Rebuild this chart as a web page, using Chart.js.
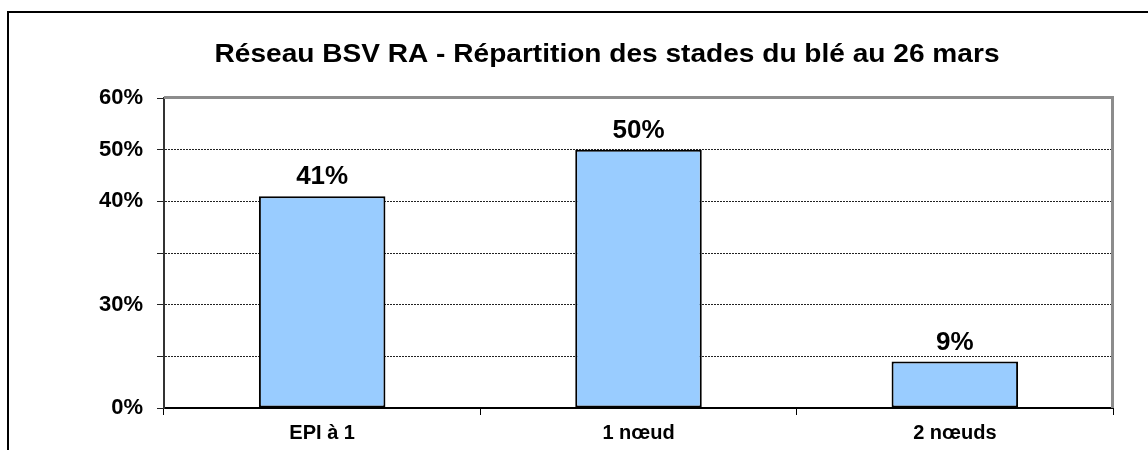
<!DOCTYPE html>
<html>
<head>
<meta charset="utf-8">
<script src="https://cdn.jsdelivr.net/npm/chart.js@4/dist/chart.umd.min.js"></script>
<style>
html,body{margin:0;padding:0;background:#fff;}
#wrap{width:1148px;height:450px;position:relative;}
</style>
</head>
<body>
<div id="wrap"><canvas id="c" width="1148" height="450"></canvas></div>
<script>
const categories = ["EPI à 1", "1 nœud", "2 nœuds"];
const values = [41, 50, 9];
const valueLabels = ["41%", "50%", "9%"];
const yTickValues = [0, 10, 20, 30, 40, 50, 60];
const yTickLabels = ["0%", "", "30%", "", "40%", "50%", "60%"];
const chartTitle = "Réseau BSV RA - Répartition des stades du blé au 26 mars";

const FONT = "'Liberation Sans', Arial, sans-serif";

const decor = {
  id: 'decor',
  beforeDraw(chart) {
    const ctx = chart.ctx;
    ctx.save();
    ctx.fillStyle = '#fff';
    ctx.fillRect(0, 0, chart.width, chart.height);
    ctx.strokeStyle = '#000';
    ctx.lineWidth = 2;
    ctx.beginPath();
    ctx.moveTo(8, 460);
    ctx.lineTo(8, 12);
    ctx.lineTo(1160, 12);
    ctx.stroke();
    ctx.restore();
  },
  afterDatasetsDraw(chart) {
    const ctx = chart.ctx;
    const a = chart.chartArea;
    ctx.save();
    // plot area top/right grey border
    ctx.strokeStyle = '#8c8c8c';
    ctx.lineWidth = 3;
    ctx.beginPath();
    ctx.moveTo(a.left, a.top - 0.5);
    ctx.lineTo(a.right - 0.5, a.top - 0.5);
    ctx.lineTo(a.right - 0.5, a.bottom);
    ctx.stroke();
    // title
    ctx.fillStyle = '#000';
    ctx.font = "bold 25px " + FONT;
    ctx.textAlign = 'center';
    ctx.textBaseline = 'alphabetic';
    const w = ctx.measureText(chartTitle).width;
    const sx = 785 / w;
    ctx.save();
    ctx.translate(607, 62);
    ctx.scale(sx, 1);
    ctx.fillText(chartTitle, 0, 0);
    ctx.restore();
    // value labels
    const meta = chart.getDatasetMeta(0);
    ctx.font = "bold 26px " + FONT;
    meta.data.forEach((bar, i) => {
      ctx.fillText(valueLabels[i], bar.x, bar.y - 12);
    });
    ctx.restore();
  }
};

new Chart(document.getElementById('c'), {
  type: 'bar',
  data: {
    labels: categories,
    datasets: [{
      data: values,
      backgroundColor: '#99ccff',
      borderColor: '#000',
      borderWidth: 2,
      borderSkipped: false,
      barPercentage: 0.4,
      categoryPercentage: 1.0
    }]
  },
  options: {
    responsive: false,
    animation: false,
    events: [],
    layout: { padding: { top: 98, right: 35, left: 0, bottom: 0 } },
    plugins: { legend: { display: false }, title: { display: false }, tooltip: { enabled: false } },
    scales: {
      x: {
        offset: true,
        border: { color: '#000', width: 2 },
        grid: { offset: true, drawOnChartArea: false, tickLength: 7, color: '#000', lineWidth: 1 },
        ticks: { color: '#000', font: { family: FONT, weight: 'bold', size: 20 }, padding: 6, maxRotation: 0 },
        afterFit(s) { s.height = 42; }
      },
      y: {
        min: 0, max: 60,
        afterBuildTicks(s) { s.ticks = yTickValues.map(v => ({ value: v })); },
        border: { color: '#333', width: 2, dash: [2, 1] },
        grid: { color: '#222', lineWidth: 1, tickLength: 7, tickBorderDash: [], drawTicks: true },
        ticks: {
          color: '#000', font: { family: FONT, weight: 'bold', size: 22 }, padding: 14,
          callback(v, i) { return yTickLabels[yTickValues.indexOf(v)]; }
        },
        afterFit(s) { s.width = 164; }
      }
    }
  },
  plugins: [decor]
});
</script>
</body>
</html>
